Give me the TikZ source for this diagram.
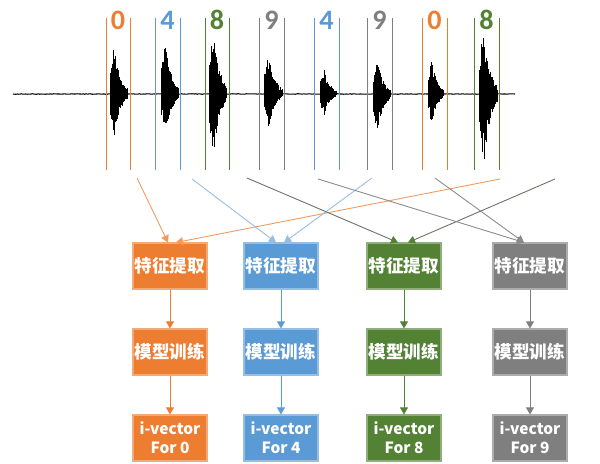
\documentclass[tikz,border=0pt]{standalone}
\usepackage{fontspec}
\setmainfont{Carlito}
\newfontfamily\cjk{Noto Sans CJK SC}
\usetikzlibrary{arrows.meta,calc,decorations.pathmorphing}

\definecolor{orangeC}{HTML}{ED7D31}
\definecolor{bleuC}{HTML}{5B9BD5}
\definecolor{vertC}{HTML}{548235}
\definecolor{grisC}{HTML}{7F7F7F}
\definecolor{lienO}{HTML}{F09A5E}
\definecolor{lienB}{HTML}{95BDE3}
\definecolor{lienV}{HTML}{6B6F68}
\definecolor{lienG}{HTML}{8A8A8A}

% une bouffee du signal : debut, fin, amplitude haut, amplitude bas
\newcommand{\bouffee}[4]{%
  \foreach \i in {0,...,44}{%
    \pgfmathsetmacro{\t}{\i/44}%
    \pgfmathsetmacro{\env}{(\t<0.25)*(0.4+0.6*\t/0.25)+(\t>=0.25)*exp(-2.8*(\t-0.25))}%
    \pgfmathsetmacro{\hA}{#3*\env*(0.5+0.5*rnd)}%
    \pgfmathsetmacro{\hB}{#4*\env*(0.5+0.5*rnd)}%
    \draw [onde] ({#1+\t*(#2-#1)},{94-\hA}) -- ({#1+\t*(#2-#1)},{94+\hB});
  }}

\begin{document}
\begin{tikzpicture}[x=0.02cm,y=-0.02cm,
  onde/.style={line width=0.45pt,color=black},
  boite/.style={fill=#1,draw=#1!65!white,line width=0.6pt,minimum width=1.48cm,
    minimum height=0.92cm,inner sep=0pt,text=white,align=center,
    font=\cjk\bfseries\fontsize{10}{11}\selectfont},
  petit/.style={font=\cjk\bfseries\fontsize{8.8}{11}\selectfont},
  fleche/.style={-{Triangle[width=4.5pt,length=4pt]},color=#1,line width=0.5pt},
  chiffre/.style={text=#1,font=\bfseries\fontsize{16}{16}\selectfont}]

\useasboundingbox (0,0) rectangle (600,464);
\pgfmathsetseed{17}

%% signal
   \draw [onde,line width=0.6pt,decorate,decoration={random steps,segment length=0.8pt,amplitude=0.15pt}] (13,94) -- (515,94);
   \bouffee{110}{127}{47}{44}
   \bouffee{161}{178}{52}{43}
   \bouffee{209}{226}{67}{64}
   \bouffee{264}{282}{42}{33}
   \bouffee{320}{336}{26}{21}
   \bouffee{373}{390}{35}{41}
   \bouffee{428}{443}{36}{34}
   \bouffee{479}{497}{66}{74}

%% decoupage
   \foreach \g/\d/\col/\chif [count=\k] in {106/130/orangeC/0, 155/180/bleuC/4, 205/229/vertC/8, 259/284/grisC/9,
       314/339/bleuC/4, 367/392/grisC/9, 422/447/orangeC/0, 474/499/vertC/8}{
     \draw [color=\col,line width=0.5pt] (\g,18) -- (\g,170);
     \draw [color=\col,line width=0.5pt] (\d,18) -- (\d,170);
     \node [chiffre=\col] (chif\k) at ({(\g+\d)/2},20) {\chif};
   }

%% boites
   \foreach \c/\x/\col/\chif in {0/170/orangeC/0, 1/281/bleuC/4, 2/404/vertC/8, 3/530/grisC/9}{
     \node [boite=\col] (ext\c) at (\x,266) {特征提取};
     \node [boite=\col] (mod\c) at (\x,352) {模型训练};
     \node [boite=\col,petit] (vec\c) at (\x,438) {i-vector\\For \chif};
     \path [fleche=\col] (ext\c) edge (mod\c);
     \path [fleche=\col] (mod\c) edge (vec\c);
   }

%% liens signal -> boites
   \coordinate (o1) at (137,178);
   \coordinate (o2) at (500,179);
   \coordinate (b1) at (192,179);
   \coordinate (b2) at (372,178);
   \coordinate (v1) at (247,178);
   \coordinate (v2) at (555,179);
   \coordinate (g1) at (318,179);
   \coordinate (g2) at (435,178);

   \path [fleche=lienO] (o1) edge ($(ext0.north)+(-2,0)$);
   \path [fleche=lienO] (o2) edge ($(ext0.north)+(6,0)$);
   \path [fleche=lienB] (b1) edge ($(ext1.north)+(-5,0)$);
   \path [fleche=lienB] (b2) edge ($(ext1.north)+(3,0)$);
   \path [fleche=lienV,-{Triangle[width=4.5pt,length=4pt,color=vertC]}] (v1) edge ($(ext2.north)+(-6,0)$);
   \path [fleche=lienV,-{Triangle[width=4.5pt,length=4pt,color=vertC]}] (v2) edge ($(ext2.north)+(4,0)$);
   \path [fleche=lienG] (g1) edge ($(ext3.north)+(-6,0)$);
   \path [fleche=lienG] (g2) edge ($(ext3.north)+(-6,0)$);

\end{tikzpicture}
\end{document}
